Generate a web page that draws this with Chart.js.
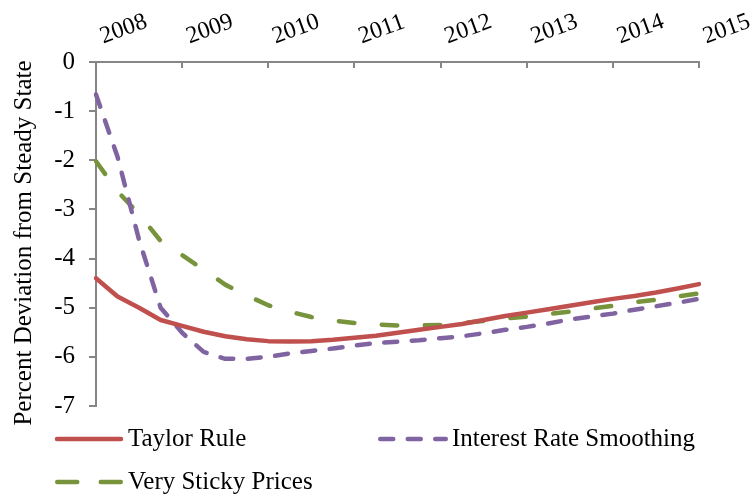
<!DOCTYPE html>
<html>
<head>
<meta charset="utf-8">
<script src="https://cdn.jsdelivr.net/npm/chart.js@4.4.1/dist/chart.umd.min.js"></script>
<style>
  html, body { margin: 0; padding: 0; background: #ffffff; }
  #wrap { width: 751px; height: 499px; position: relative; }
</style>
</head>
<body>
<div id="wrap"><canvas id="c" width="751" height="499"></canvas></div>
<script>
// ---- Data ----
const quarters = ['2008Q1','2008Q2','2008Q3','2008Q4','2009Q1','2009Q2','2009Q3','2009Q4',
  '2010Q1','2010Q2','2010Q3','2010Q4','2011Q1','2011Q2','2011Q3','2011Q4',
  '2012Q1','2012Q2','2012Q3','2012Q4','2013Q1','2013Q2','2013Q3','2013Q4',
  '2014Q1','2014Q2','2014Q3','2014Q4','2015Q1'];
const yearLabels = ['2008','2009','2010','2011','2012','2013','2014','2015'];
const taylorRule = [-4.40,-4.77,-5.00,-5.25,-5.37,-5.49,-5.58,-5.64,-5.68,-5.69,-5.68,-5.65,
  -5.61,-5.57,-5.51,-5.45,-5.39,-5.33,-5.25,-5.17,-5.10,-5.03,-4.96,-4.89,-4.82,-4.76,-4.69,-4.61,-4.52];
const interestRateSmoothing = [-0.66,-1.93,-3.62,-5.00,-5.51,-5.90,-6.04,-6.04,-6.00,-5.93,-5.88,-5.83,
  -5.77,-5.72,-5.69,-5.66,-5.62,-5.58,-5.52,-5.45,-5.39,-5.32,-5.24,-5.18,-5.12,-5.04,-4.97,-4.90,-4.82];
const verySticky = [-2.02,-2.63,-3.10,-3.64,-3.93,-4.23,-4.53,-4.75,-4.95,-5.08,-5.19,-5.26,
  -5.31,-5.34,-5.36,-5.36,-5.35,-5.31,-5.27,-5.22,-5.18,-5.13,-5.08,-5.02,-4.96,-4.89,-4.84,-4.77,-4.71];
const seriesNames = ['Taylor Rule','Interest Rate Smoothing','Very Sticky Prices'];
const yTitle = 'Percent Deviation from Steady State';

// ---- Styles ----
const FONT = '"Liberation Serif", "Times New Roman", serif';
const AXIS = '#868686';
const colors = ['#C0504D', '#8064A2', '#77933C'];

const extras = {
  id: 'extras',
  afterDraw(chart) {
    const ctx = chart.ctx;
    const xs = chart.scales.x;
    const area = chart.chartArea;
    ctx.save();
    // inward tick marks on top axis
    ctx.strokeStyle = AXIS;
    ctx.lineWidth = 2;
    for (let i = 0; i < quarters.length; i += 4) {
      const px = Math.round(xs.getPixelForValue(i));
      ctx.beginPath();
      ctx.moveTo(px, area.top);
      ctx.lineTo(px, area.top + 6);
      ctx.stroke();
    }
    // y axis title
    ctx.fillStyle = '#000';
    ctx.font = '25px ' + FONT;
    ctx.textAlign = 'center';
    ctx.textBaseline = 'alphabetic';
    ctx.translate(31, 243);
    ctx.rotate(-Math.PI / 2);
    ctx.fillText(yTitle, 0, 0);
    ctx.restore();

    // legend
    const items = [
      { ds: 0, x0: 57, x1: 121, y: 439, tx: 128, dash: [] },
      { ds: 1, x0: 380.25, x1: 445.75, y: 439, tx: 452, dash: [13, 14.5] },
      { ds: 2, x0: 57.25, x1: 120.75, y: 482, tx: 128, dash: [20, 23.5] }
    ];
    ctx.save();
    items.forEach(it => {
      const ds = chart.data.datasets[it.ds];
      ctx.strokeStyle = ds.borderColor;
      ctx.lineWidth = 4.5;
      ctx.lineCap = 'round';
      ctx.setLineDash(it.dash);
      ctx.beginPath();
      ctx.moveTo(it.x0, it.y);
      ctx.lineTo(it.x1, it.y);
      ctx.stroke();
      ctx.setLineDash([]);
      ctx.fillStyle = '#000';
      ctx.font = '25px ' + FONT;
      ctx.textAlign = 'left';
      ctx.textBaseline = 'middle';
      ctx.fillText(ds.label, it.tx, it.y);
    });
    ctx.restore();
  }
};

new Chart(document.getElementById('c'), {
  type: 'line',
  data: {
    labels: quarters,
    datasets: [
      { label: seriesNames[0], data: taylorRule, borderColor: colors[0], borderWidth: 4.5,
        pointRadius: 0, tension: 0, fill: false, borderCapStyle: 'round', borderJoinStyle: 'round' },
      { label: seriesNames[1], data: interestRateSmoothing, borderColor: colors[1], borderWidth: 4.5,
        pointRadius: 0, tension: 0, fill: false, borderDash: [13, 14.5], borderCapStyle: 'round', borderJoinStyle: 'round' },
      { label: seriesNames[2], data: verySticky, borderColor: colors[2], borderWidth: 4.5,
        pointRadius: 0, tension: 0, fill: false, borderDash: [15.5, 27.5], borderCapStyle: 'round', borderJoinStyle: 'round' }
    ]
  },
  options: {
    responsive: false,
    animation: false,
    layout: { padding: { left: 0, right: 52, top: 0, bottom: 93 } },
    plugins: { legend: { display: false }, tooltip: { enabled: false }, title: { display: false } },
    scales: {
      x: {
        type: 'category',
        position: 'top',
        offset: false,
        grid: { display: true, drawOnChartArea: false, drawTicks: false },
        border: { display: true, color: AXIS, width: 2 },
        ticks: {
          autoSkip: false,
          minRotation: 20,
          maxRotation: 20,
          padding: 11,
          labelOffset: 15,
          color: '#000',
          font: { family: FONT, size: 24 },
          callback: function (value, index) {
            return index % 4 === 0 ? yearLabels[index / 4] : '';
          }
        },
        afterFit: s => { s.height = 62; s.paddingLeft = 0; s.paddingRight = 0; }
      },
      y: {
        min: -7,
        max: 0,
        grid: { display: true, drawOnChartArea: false, drawTicks: true, tickLength: 7, color: AXIS, lineWidth: 2 },
        border: { display: true, color: AXIS, width: 2 },
        ticks: {
          stepSize: 1,
          padding: 14,
          color: '#000',
          font: { family: FONT, size: 25 }
        },
        afterFit: s => { s.width = 96; s.paddingTop = 0; s.paddingBottom = 0; }
      }
    }
  },
  plugins: [extras]
});
</script>
</body>
</html>
